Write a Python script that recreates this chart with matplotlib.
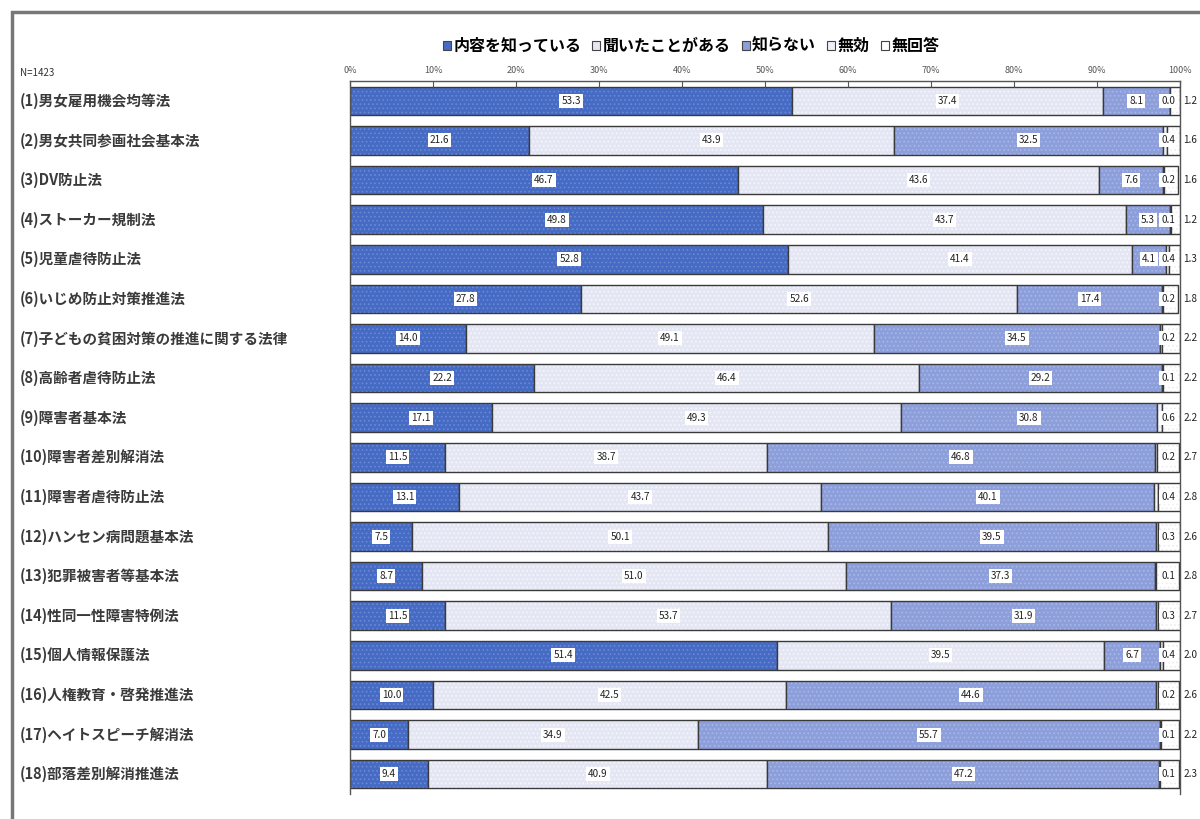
import matplotlib
matplotlib.use("Agg")
import matplotlib.pyplot as plt
from matplotlib.patches import Rectangle, Patch
from matplotlib.transforms import blended_transform_factory
import numpy as np

plt.rcParams['font.family'] = ['Noto Sans CJK JP', 'DejaVu Sans']
plt.rcParams['hatch.linewidth'] = 0.7

# 法律名
laws = [
    "(1)男女雇用機会均等法",
    "(2)男女共同参画社会基本法",
    "(3)DV防止法",
    "(4)ストーカー規制法",
    "(5)児童虐待防止法",
    "(6)いじめ防止対策推進法",
    "(7)子どもの貧困対策の推進に関する法律",
    "(8)高齢者虐待防止法",
    "(9)障害者基本法",
    "(10)障害者差別解消法",
    "(11)障害者虐待防止法",
    "(12)ハンセン病問題基本法",
    "(13)犯罪被害者等基本法",
    "(14)性同一性障害特例法",
    "(15)個人情報保護法",
    "(16)人権教育・啓発推進法",
    "(17)ヘイトスピーチ解消法",
    "(18)部落差別解消推進法",
]

# 回答割合（%）
known = [53.3, 21.6, 46.7, 49.8, 52.8, 27.8, 14.0, 22.2, 17.1,
         11.5, 13.1, 7.5, 8.7, 11.5, 51.4, 10.0, 7.0, 9.4]
heard = [37.4, 43.9, 43.6, 43.7, 41.4, 52.6, 49.1, 46.4, 49.3,
         38.7, 43.7, 50.1, 51.0, 53.7, 39.5, 42.5, 34.9, 40.9]
unknown = [8.1, 32.5, 7.6, 5.3, 4.1, 17.4, 34.5, 29.2, 30.8,
           46.8, 40.1, 39.5, 37.3, 31.9, 6.7, 44.6, 55.7, 47.2]
invalid = [0.0, 0.4, 0.2, 0.1, 0.4, 0.2, 0.2, 0.1, 0.6,
           0.2, 0.4, 0.3, 0.1, 0.3, 0.4, 0.2, 0.1, 0.1]
no_answer = [1.2, 1.6, 1.6, 1.2, 1.3, 1.8, 2.2, 2.2, 2.2,
             2.7, 2.8, 2.6, 2.8, 2.7, 2.0, 2.6, 2.2, 2.3]

series_names = ["内容を知っている", "聞いたことがある", "知らない", "無効", "無回答"]
tick_values = list(range(0, 101, 10))
tick_labels = [f"{t}%" for t in tick_values]
sample_note = "N=1423"

W, H = 1200, 819
fig = plt.figure(figsize=(W / 100, H / 100), dpi=100)
fig.patch.set_facecolor("white")

ax = fig.add_axes([350 / W, 1 - 794 / H, 830 / W, (794 - 81) / H])

series = [known, heard, unknown, invalid, no_answer]
faces = ["#456bc4", "#e4e7f3", "#8d9fdb", "#eff0f7", "#ffffff"]
dots = ["#6c88d3", "#f6f7fc", "#a9b6e6", "#ffffff", "#ececf2"]

y = np.arange(len(laws))
left = np.zeros(len(laws))
bar_h = 0.72
for k, (vals, fc, dc) in enumerate(zip(series, faces, dots)):
    vals = np.asarray(vals, dtype=float)
    ax.barh(y, vals, left=left, height=bar_h, color=fc, edgecolor=dc,
            hatch="....", linewidth=0)
    ax.barh(y, vals, left=left, height=bar_h, fill=False,
            edgecolor="#3a3a3a", linewidth=1.0)
    for i, v in enumerate(vals):
        if k < 3:
            xpos, ha = left[i] + v / 2, "center"
        elif k == 3:
            xpos, ha = 98.6, "center"
        else:
            xpos, ha = 100.4, "left"
        bbox = dict(boxstyle="square,pad=0.2", fc="white", ec="none") if k < 4 else None
        ax.text(xpos, i, f"{v:.1f}", ha=ha, va="center", fontsize=7.2,
                color="#222222", bbox=bbox, clip_on=False)
    left += vals

ax.set_xlim(0, 100)
ax.set_ylim(len(laws) - 0.5, -0.5)
ax.set_yticks([])
ax.xaxis.tick_top()
ax.set_xticks(tick_values)
ax.set_xticklabels(tick_labels, fontsize=6.5, color="#333333")
ax.tick_params(axis="x", direction="in", length=4, width=0.8, pad=4, colors="#555555")
for s in ["top", "left", "right"]:
    ax.spines[s].set_color("#555555")
    ax.spines[s].set_linewidth(1.0)
ax.spines["bottom"].set_visible(False)

# 項目名
label_tf = blended_transform_factory(fig.transFigure, ax.transData)
for i, name in enumerate(laws):
    ax.text(20 / W, i, name, transform=label_tf, ha="left", va="center",
            fontsize=10.5, fontweight="bold", color="#3a3a3a")

fig.text(20 / W, 1 - 73 / H, sample_note, fontsize=7, color="#333333", va="center")

# 凡例
handles = [Patch(facecolor=fc, edgecolor="#444444", linewidth=0.8) for fc in faces]
fig.legend(handles, series_names, loc="center", bbox_to_anchor=(691 / W, 1 - 46 / H),
           ncol=5, frameon=False, handlelength=0.5, handleheight=0.5,
           handletextpad=0.15, columnspacing=0.7, borderaxespad=0,
           prop={"weight": "bold", "size": 11.5})

# 外枠
fig.patches.append(Rectangle((12 / W, -0.05), 1.2, 1 - 12 / H + 0.05,
                             transform=fig.transFigure, fill=False,
                             edgecolor="#777777", linewidth=2.5))

fig.savefig("out.png", dpi=100)
